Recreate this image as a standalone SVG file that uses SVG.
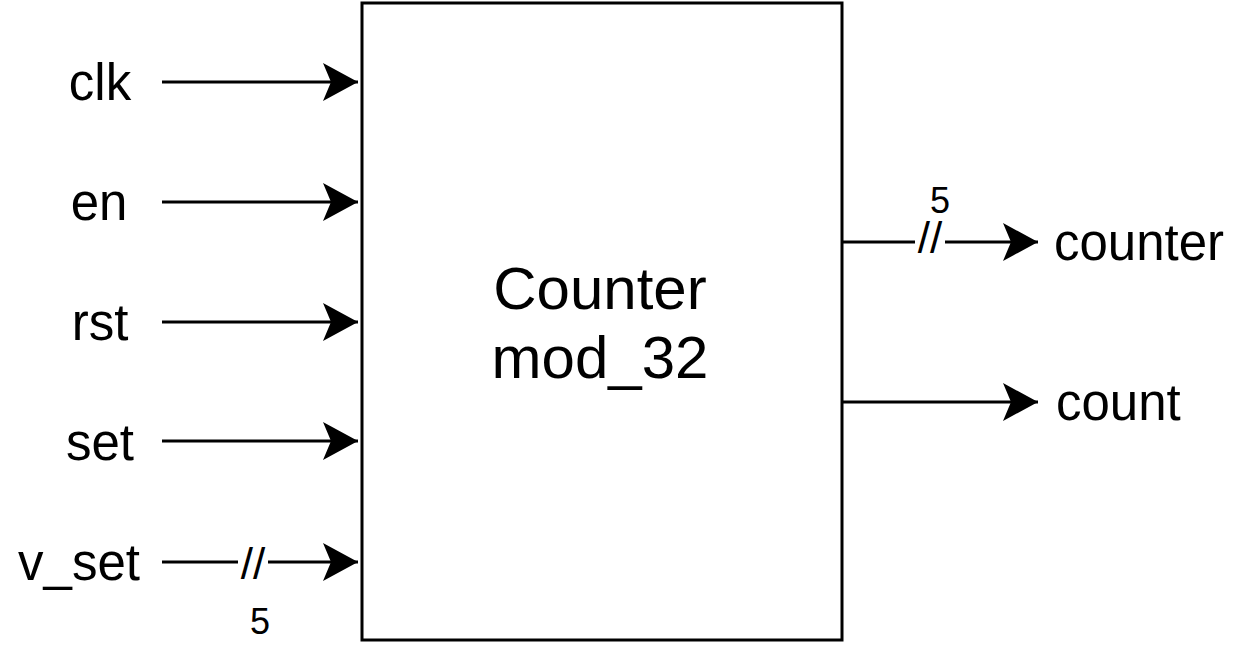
<svg xmlns="http://www.w3.org/2000/svg" width="1240" height="652" viewBox="0 0 1240 652">
<defs>
<marker id="arr" markerUnits="userSpaceOnUse" viewBox="0 0 36 38" refX="35" refY="19" markerWidth="36" markerHeight="38" orient="auto">
<path d="M35,19 L0,0 L8,19 L0,38 Z" fill="#000"/>
</marker>
<style>
.lbl{font-family:"Liberation Sans",Arial,Helvetica,sans-serif;font-size:51px;fill:#000}
.big{font-family:"Liberation Sans",Arial,Helvetica,sans-serif;font-size:60px;fill:#000;text-anchor:middle}
.num{font-family:"Liberation Sans",Arial,Helvetica,sans-serif;font-size:36px;fill:#000;text-anchor:middle}
.sl{font-family:"Liberation Sans",Arial,Helvetica,sans-serif;font-size:44px;fill:#000;text-anchor:middle}
.wire{stroke:#000;stroke-width:3;fill:none}
</style>
</defs>
<rect width="1240" height="652" fill="#fff"/>
<g id="counter-block">
<rect x="362" y="3" width="480" height="637" fill="#fff" stroke="#000" stroke-width="3"/>
<text class="big" x="600" y="309">Counter</text>
<text class="big" x="600" y="378">mod_32</text>
</g>
<g id="in-clk"><text class="lbl" x="100" y="100" text-anchor="middle">clk</text></g>
<g id="in-en"><text class="lbl" x="99" y="220" text-anchor="middle">en</text></g>
<g id="in-rst"><text class="lbl" x="100" y="340" text-anchor="middle">rst</text></g>
<g id="in-set"><text class="lbl" x="100" y="460" text-anchor="middle">set</text></g>
<g id="in-vset"><text class="lbl" x="79" y="580" text-anchor="middle">v_set</text></g>
<g id="out-counter"><text class="lbl" x="1054" y="260">counter</text></g>
<g id="out-count"><text class="lbl" x="1056" y="420">count</text></g>
<g id="connectors">
<line class="wire" x1="162" y1="82" x2="358" y2="82" marker-end="url(#arr)"/>
<line class="wire" x1="162" y1="202" x2="358" y2="202" marker-end="url(#arr)"/>
<line class="wire" x1="162" y1="322" x2="358" y2="322" marker-end="url(#arr)"/>
<line class="wire" x1="162" y1="441" x2="358" y2="441" marker-end="url(#arr)"/>
<line class="wire" x1="162" y1="562" x2="358" y2="562" marker-end="url(#arr)"/>
<line class="wire" x1="842" y1="242" x2="1038" y2="242" marker-end="url(#arr)"/>
<line class="wire" x1="842" y1="402" x2="1038" y2="402" marker-end="url(#arr)"/>
<rect x="238" y="552" width="30" height="22" fill="#fff"/>
<text class="sl" x="253" y="579">//</text>
<text class="num" x="260" y="634">5</text>
<rect x="915" y="232" width="30" height="22" fill="#fff"/>
<text class="sl" x="930" y="253">//</text>
<text class="num" x="940" y="213">5</text>
</g>
</svg>
